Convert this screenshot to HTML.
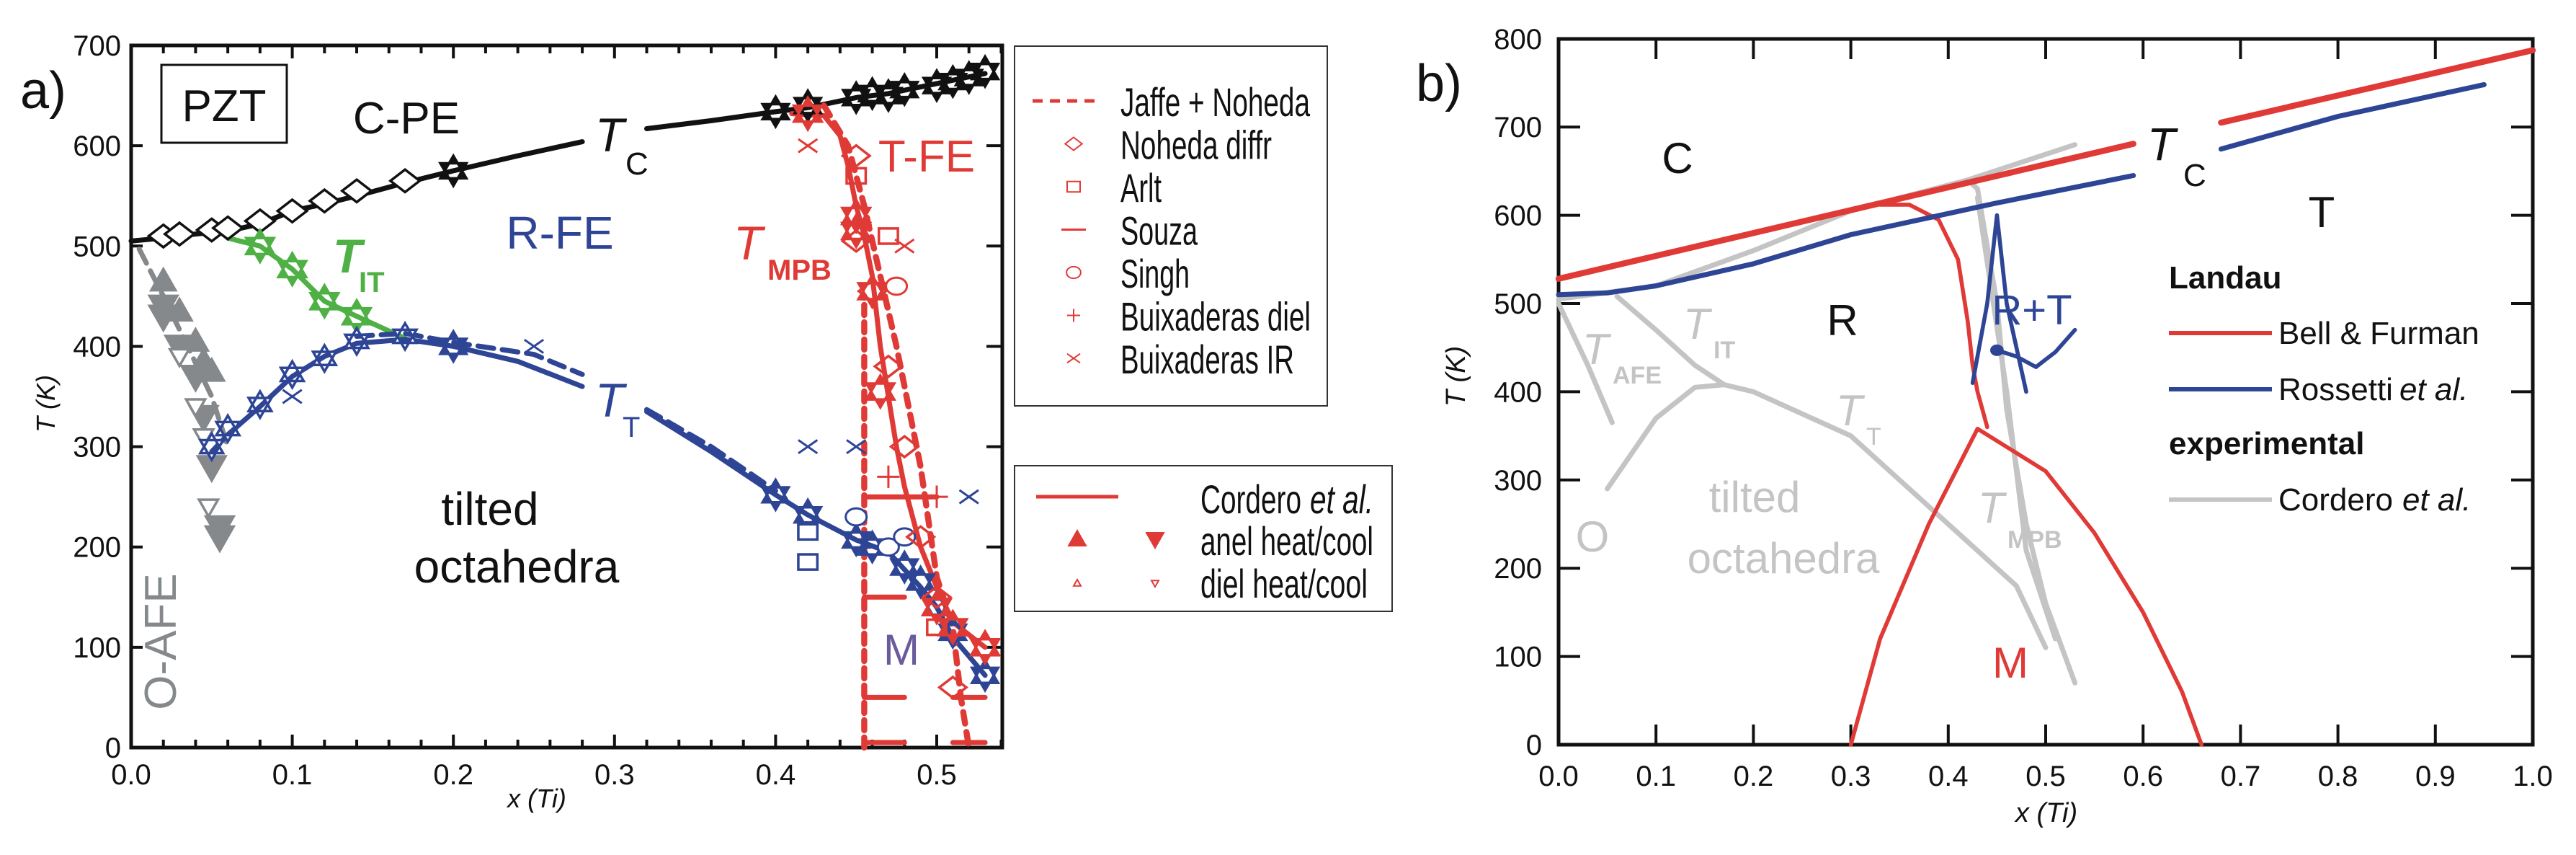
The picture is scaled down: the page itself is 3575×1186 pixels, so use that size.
<!DOCTYPE html>
<html><head><meta charset="utf-8"><title>PZT phase diagram</title>
<style>
html,body{margin:0;padding:0;background:#fff;}
svg{display:block;font-family:"Liberation Sans",Arial,sans-serif;}
</style></head>
<body>
<svg id="fig" width="3575" height="1186" viewBox="0 0 3575 1186" xmlns="http://www.w3.org/2000/svg">
<g id="panelA"></g>
<g id="panelB"></g>
<g id="legA"></g>
</svg>
<script>
// ---------- Panel a data ----------
const tcX = [0,0.02,0.04,0.06,0.08,0.1,0.12,0.14,0.17,0.2,0.24,0.28];
const tcT = [505,508,512,515,522,535,542,550,563,575,590,604];
const tcX2 = [0.32,0.36,0.4,0.42,0.45,0.47,0.5,0.53];
const tcT2 = [617,625,634,638,648,652,662,672];
const tcOpenX = [0.02,0.03,0.05,0.06,0.08,0.1,0.12,0.14,0.17];
const tcOpenT = [510,512,516,518,525,535,545,555,565];
const tcStarX = [0.2,0.4,0.42,0.45,0.46,0.47,0.48,0.5,0.51,0.52,0.53];
const tcStarT = [575,634,640,648,652,650,656,660,664,668,674];
const itX = [0.06,0.08,0.1,0.12,0.14,0.17];
const itT = [508,500,477,445,430,408];
const itStarX = [0.08,0.1,0.12,0.14];
const itStarT = [500,477,445,430];
const ttX = [0.05,0.06,0.08,0.1,0.12,0.14,0.17,0.2,0.24,0.28];
const ttT = [295,312,340,370,390,403,407,400,385,360];
const ttX2 = [0.32,0.36,0.4,0.42,0.45,0.47,0.49,0.5,0.51,0.53];
const ttT2 = [335,295,252,232,207,195,160,140,110,72];
const ttDashX = [0.14,0.17,0.2,0.25,0.28];
const ttDashT = [410,413,404,392,372];
const ttDashX2 = [0.32,0.36,0.4];
const ttDashT2 = [337,300,256];
const ttOpenX = [0.05,0.06,0.08,0.1,0.12,0.14,0.17];
const ttOpenT = [300,318,342,372,388,405,410];
const ttStarX = [0.2,0.4,0.42,0.45,0.46,0.48,0.49,0.5,0.51,0.53];
const ttStarT = [400,252,232,207,200,180,165,140,115,72];
const afeX = [0.005,0.02,0.035,0.05,0.06];
const afeT = [497,450,400,350,300];
const afeDownX = [0.02,0.02,0.03,0.04,0.045,0.05,0.055,0.055];
const afeDownT = [440,430,400,370,330,280,220,210];
const afeUpX = [0.02,0.03,0.04,0.045,0.05];
const afeUpT = [465,435,405,385,375];
const afeOpenX = [0.03,0.04,0.045,0.048];
const afeOpenT = [390,340,310,240];
const mpbX = [0.41,0.43,0.44,0.445,0.45,0.455,0.46,0.465,0.47,0.475,0.48,0.49,0.5,0.51,0.53];
const mpbT = [632,630,610,580,540,510,470,400,350,300,260,200,160,125,100];
const jafX = [0.43,0.445,0.455,0.465,0.475,0.48,0.49,0.5,0.51,0.515,0.52];
const jafT = [640,600,540,470,400,360,280,170,120,50,0];
const mpbTriX = [0.42,0.45,0.45,0.46,0.465,0.5,0.51,0.53];
const mpbTriT = [632,530,515,455,355,140,120,100];
const nohX = [0.45,0.45,0.46,0.47,0.48,0.49,0.5,0.51];
const nohT = [590,505,455,380,300,210,150,60];
const arltX = [0.45,0.47,0.5];
const arltT = [570,510,120];
const singhX = [0.475];
const singhT = [460];
const buixIRX = [0.42,0.48];
const buixIRT = [600,500];
const buixDielX = [0.47,0.5];
const buixDielT = [270,250];
const blueXX = [0.1,0.25,0.42,0.45,0.52];
const blueXT = [350,400,300,300,250];
const blueSqX = [0.42,0.42];
const blueSqT = [215,185];
const blueCircX = [0.45,0.47,0.48];
const blueCircT = [230,200,210];
const souzaT = [250,150,50,50,5,5];
const souzaX0 = [0.455,0.455,0.455,0.51,0.455,0.51];
const souzaX1 = [0.5,0.48,0.48,0.53,0.48,0.53];
const yTicksA = [0,100,200,300,400,500,600,700];
const xTicksA = [0,0.1,0.2,0.3,0.4,0.5];
const xTickLabelsA = ["0.0","0.1","0.2","0.3","0.4","0.5"];

// ---------- Panel b data ----------
const bfX = [0,0.59]; const bfT = [528,681];
const bfX2 = [0.68,1.0]; const bfT2 = [705,787];
const bfMX = [0.3,0.33,0.38,0.43,0.5,0.55,0.6,0.64,0.66];
const bfMT = [0,120,250,358,310,240,150,60,0];
const bfRX = [0.33,0.36,0.39,0.41,0.42,0.425,0.43,0.44];
const bfRT = [612,612,595,550,480,430,400,360];
const roX = [0,0.05,0.1,0.2,0.3,0.4,0.45,0.59];
const roT = [510,512,520,545,578,602,614,645];
const roX2 = [0.68,0.8,0.95];
const roT2 = [675,712,748];
const roSpikeX = [0.425,0.44,0.45,0.46,0.48];
const roSpikeT = [410,500,600,500,400];
const roTailX = [0.45,0.47,0.49,0.51,0.53];
const roTailT = [447,440,428,445,470];
const coTcX = [0,0.1,0.2,0.3,0.42,0.53];
const coTcT = [505,520,560,605,640,680];
const coMpbX = [0.42,0.43,0.45,0.46,0.48,0.5,0.53];
const coMpbT = [640,630,500,380,250,160,70];
const coMpb2X = [0.43,0.46,0.48,0.51];
const coMpb2T = [620,400,220,120];
const coItX = [0.06,0.1,0.14,0.17];
const coItT = [508,470,430,408];
const coTtX = [0.05,0.1,0.14,0.17,0.2,0.3,0.4,0.47,0.5];
const coTtT = [290,370,405,408,400,350,250,180,110];
const coAfeX = [0,0.03,0.055];
const coAfeT = [500,430,365];
const yTicksB = [0,100,200,300,400,500,600,700,800];
const xTicksB = [0,0.1,0.2,0.3,0.4,0.5,0.6,0.7,0.8,0.9,1.0];

// ---------- axis functions ----------
const XA = x => 182 + x*2236;
const YA = t => 1037 - t*1.3914;
const XB = x => 2163 + x*1352;
const YB = t => 1033 - t*1.224;
const NS = "http://www.w3.org/2000/svg";
const gA = document.getElementById('panelA');
const gB = document.getElementById('panelB');
const gL = document.getElementById('legA');

function mk(tag, attrs, parent){
  const e = document.createElementNS(NS, tag);
  for (const k in attrs) e.setAttribute(k, attrs[k]);
  parent.appendChild(e);
  return e;
}
function polyline(parent, xs, ts, fx, fy, color, w, dash, name){
  const pts = xs.map((x,i)=>fx(x).toFixed(1)+','+fy(ts[i]).toFixed(1)).join(' ');
  const e = mk('polyline', {points:pts, fill:'none', stroke:color, 'stroke-width':w*1.4, 'stroke-linejoin':'round', 'stroke-linecap':'round'}, parent);
  if (dash) e.setAttribute('stroke-dasharray', dash);
  
  
  return e;
}
function shape(type, cx, cy, s, color, filled){
  let d;
  if (type==='up') d = `M${cx},${cy-s}L${cx+s},${cy+s*0.75}L${cx-s},${cy+s*0.75}Z`;
  else if (type==='down') d = `M${cx},${cy+s}L${cx+s},${cy-s*0.75}L${cx-s},${cy-s*0.75}Z`;
  else if (type==='diamond') d = `M${cx},${cy-s}L${cx+s*1.3},${cy}L${cx},${cy+s}L${cx-s*1.3},${cy}Z`;
  else if (type==='square') d = `M${cx-s},${cy-s*0.8}h${2*s}v${1.6*s}h${-2*s}Z`;
  else if (type==='star') d = `M${cx},${cy-s}L${cx+s*0.87},${cy+s*0.5}L${cx-s*0.87},${cy+s*0.5}Z M${cx},${cy+s}L${cx+s*0.87},${cy-s*0.5}L${cx-s*0.87},${cy-s*0.5}Z`;
  else if (type==='x') d = `M${cx-s},${cy-s*0.7}L${cx+s},${cy+s*0.7}M${cx+s},${cy-s*0.7}L${cx-s},${cy+s*0.7}`;
  else if (type==='plus') d = `M${cx-s},${cy}L${cx+s},${cy}M${cx},${cy-s}L${cx},${cy+s}`;
  let attrs;
  if (type==='circle'){
    return ['ellipse', {cx:cx, cy:cy, rx:s*1.1, ry:s*0.9, fill:filled?color:'#fff', stroke:color, 'stroke-width':3}];
  }
  if (type==='x'||type==='plus') attrs = {d:d, fill:'none', stroke:color, 'stroke-width':3};
  else attrs = {d:d, fill:filled?color:(filled===null?'none':'#fff'), stroke:color, 'stroke-width':3.5, 'stroke-linejoin':'miter'};
  return ['path', attrs];
}
function markers(parent, xs, ts, fx, fy, type, s, color, filled, name){
  const g = mk('g', {}, parent);
  
  
  const sz = type==='star' ? s*1.3 : s*1.2;
  xs.forEach((x,i)=>{
    const [tag, at] = shape(type, fx(x), fy(ts[i]), sz, color, filled);
    const e = mk(tag, at, g);
    
    
  });
}
function text(parent, x, y, str, size, color, opts, name){
  const e = mk('text', {x:x, y:y, 'font-size':size, fill:color}, parent);
  if (opts) for (const k in opts) e.setAttribute(k, opts[k]);
  e.textContent = str;
  
  
  return e;
}

// ---------- Panel a axes ----------
const RED='#e03a36', BLUE='#2e4596', GREEN='#4fb045', GRAY='#85898c', LG='#c4c4c4', PURPLE='#6b5a9c';
const frameA = mk('rect', {x:182, y:63, width:1209, height:974, fill:'none', stroke:'#111', 'stroke-width':5}, gA);


for (let i=0;i<=27;i++){
  const x = i*0.02; if (XA(x)>1390) break;
  const L = (i%5===0)?18:11;
  const t1 = mk('path', {d:`M${XA(x)},1037v${-L}M${XA(x)},63v${L}`, stroke:'#111', 'stroke-width':4}, gA);
  
  
}
yTicksA.forEach(t=>{
  const tk = mk('path', {d:`M182,${YA(t)}h16M1391,${YA(t)}h-22`, stroke:'#111', 'stroke-width':4}, gA);
  
  
  text(gA, 168, YA(t)+14, String(t), 40, '#111', {'text-anchor':'end'}, 'y-tick-label-a');
});
xTicksA.forEach((x,i)=>{
  text(gA, XA(x), 1088, xTickLabelsA[i], 40, '#111', {'text-anchor':'middle'}, 'x-tick-label-a');
});
text(gA, 745, 1120, 'x (Ti)', 36, '#111', {'text-anchor':'middle','font-style':'italic'}, 'x-axis-title-a');
text(gA, 0, 0, 'T (K)', 36, '#111', {'text-anchor':'middle','transform':'translate(76,560) rotate(-90)','font-style':'italic'}, 'y-axis-title-a');
text(gA, 28, 150, 'a)', 72, '#111', {}, 'panel-label-a');
const pztBox = mk('rect', {x:224, y:90, width:174, height:108, fill:'#fff', stroke:'#111', 'stroke-width':3}, gA);


text(gA, 311, 168, 'PZT', 62, '#111', {'text-anchor':'middle'}, 'pzt-label');

// lines
polyline(gA, afeX, afeT, XA, YA, GRAY, 5, '22 12', 'afe-dashed-line');
polyline(gA, tcX, tcT, XA, YA, '#111', 5, null, 'tc-line-low');
polyline(gA, tcX2, tcT2, XA, YA, '#111', 5, null, 'tc-line-high');
polyline(gA, itX, itT, XA, YA, GREEN, 5, null, 'tit-line');
polyline(gA, ttX, ttT, XA, YA, BLUE, 5, null, 'tt-line-low');
polyline(gA, ttX2, ttT2, XA, YA, BLUE, 5, null, 'tt-line-high');
polyline(gA, ttDashX, ttDashT, XA, YA, BLUE, 5, '22 12', 'tt-dashed-low');
polyline(gA, ttDashX2, ttDashT2, XA, YA, BLUE, 5, '22 12', 'tt-dashed-high');
polyline(gA, jafX, jafT, XA, YA, RED, 6, '16 12', 'jaffe-noheda-line');
polyline(gA, [0.455,0.455], [0,450], XA, YA, RED, 6, '14 10', 'mpb-vertical-dashed');
polyline(gA, mpbX, mpbT, XA, YA, RED, 5, null, 'tmpb-line');
souzaT.forEach((t,i)=>{
  polyline(gA, [souzaX0[i], souzaX1[i]], [t,t], XA, YA, RED, 5, null, 'souza-segment');
});
// markers
markers(gA, afeDownX, afeDownT, XA, YA, 'down', 16, GRAY, true, 'afe-cool-markers');
markers(gA, afeUpX, afeUpT, XA, YA, 'up', 14, GRAY, true, 'afe-heat-markers');
markers(gA, afeOpenX, afeOpenT, XA, YA, 'down', 11, GRAY, false, 'afe-diel-markers');
markers(gA, tcOpenX, tcOpenT, XA, YA, 'diamond', 13, '#111', false, 'tc-open-markers');
markers(gA, tcStarX, tcStarT, XA, YA, 'star', 16, '#111', true, 'tc-star-markers');
markers(gA, itStarX, itStarT, XA, YA, 'star', 17, GREEN, true, 'tit-star-markers');
markers(gA, ttOpenX, ttOpenT, XA, YA, 'star', 14, BLUE, false, 'tt-open-markers');
markers(gA, ttStarX, ttStarT, XA, YA, 'star', 16, BLUE, true, 'tt-star-markers');
markers(gA, blueXX, blueXT, XA, YA, 'x', 11, BLUE, false, 'blue-x-markers');
markers(gA, blueSqX, blueSqT, XA, YA, 'square', 11, BLUE, false, 'blue-square-markers');
markers(gA, blueCircX, blueCircT, XA, YA, 'circle', 11, BLUE, null, 'blue-circle-markers');
markers(gA, mpbTriX, mpbTriT, XA, YA, 'star', 17, RED, true, 'tmpb-anel-markers');
markers(gA, nohX, nohT, XA, YA, 'diamond', 12, RED, null, 'noheda-diffr-markers');
markers(gA, arltX, arltT, XA, YA, 'square', 11, RED, null, 'arlt-markers');
markers(gA, singhX, singhT, XA, YA, 'circle', 11, RED, null, 'singh-markers');
markers(gA, buixIRX, buixIRT, XA, YA, 'x', 11, RED, false, 'buixaderas-ir-markers');
markers(gA, buixDielX, buixDielT, XA, YA, 'plus', 13, RED, false, 'buixaderas-diel-markers');
// region labels
text(gA, 564, 185, 'C-PE', 62, '#111', {'text-anchor':'middle'}, 'c-pe-label');
text(gA, 826, 210, 'T', 66, '#111', {'font-style':'italic'}, 'tc-label');
text(gA, 868, 242, 'C', 44, '#111', {}, 'tc-label-sub');
text(gA, 777, 345, 'R-FE', 64, BLUE, {'text-anchor':'middle'}, 'r-fe-label');
text(gA, 462, 378, 'T', 66, GREEN, {'font-style':'italic','font-weight':'bold'}, 'tit-label');
text(gA, 498, 405, 'IT', 40, GREEN, {'font-weight':'bold'}, 'tit-label-sub');
text(gA, 1018, 360, 'T', 66, RED, {'font-style':'italic'}, 'tmpb-label');
text(gA, 1065, 388, 'MPB', 40, RED, {'font-weight':'bold'}, 'tmpb-label-sub');
text(gA, 1286, 238, 'T-FE', 62, RED, {'text-anchor':'middle'}, 't-fe-label');
text(gA, 826, 578, 'T', 66, BLUE, {'font-style':'italic'}, 'tt-label');
text(gA, 864, 606, 'T', 40, BLUE, {}, 'tt-label-sub');
text(gA, 680, 728, 'tilted', 64, '#111', {'text-anchor':'middle'}, 'tilted-label');
text(gA, 717, 808, 'octahedra', 64, '#111', {'text-anchor':'middle'}, 'octahedra-label');
text(gA, 0, 0, 'O-AFE', 62, GRAY, {'text-anchor':'middle','transform':'translate(244,890) rotate(-90)'}, 'o-afe-label');
text(gA, 1251, 922, 'M', 60, PURPLE, {'text-anchor':'middle'}, 'm-label-a');

// ---------- Legend a ----------
const lb1 = mk('rect', {x:1408, y:64, width:434, height:499, fill:'#fff', stroke:'#333', 'stroke-width':2}, gL);


const lb2 = mk('rect', {x:1408, y:646, width:524, height:202, fill:'#fff', stroke:'#333', 'stroke-width':2}, gL);


const legNames = ['Jaffe + Noheda','Noheda diffr','Arlt','Souza','Singh','Buixaderas diel','Buixaderas IR'];
const legWidths = [263,210,57,107,96,264,241];
const legTypes = ['dash','diamond','square','line','circle','plus','x'];
legNames.forEach((n,i)=>{
  const y = 140 + i*59.5;
  const tp = legTypes[i];
  if (tp==='dash'){
    const e = mk('path', {d:`M1433,${y}h90`, stroke:RED, 'stroke-width':5, 'stroke-dasharray':'14 10'}, gL);
    
    
  } else if (tp==='line'){
    const e = mk('path', {d:`M1473,${y}h34`, stroke:RED, 'stroke-width':3}, gL);
    
    
  } else {
    const [tag, at] = shape(tp, 1490, y, 9, RED, null);
    at['stroke-width'] = 2;
    const e = mk(tag, at, gL);
    
    
  }
  text(gL, 1555, y+21, n, 56, '#111', {'textLength':legWidths[i],'lengthAdjust':'spacingAndGlyphs'}, 'legend-entry');
});
const cl = mk('path', {d:`M1438,689h114`, stroke:RED, 'stroke-width':5}, gL);


[['up',1495,748,12,true],['down',1603,748,12,true],['up',1495,809,5,null],['down',1603,809,5,null]].forEach(m=>{
  const [tag, at] = shape(m[0], m[1], m[2], m[3], RED, m[4]);
  at['stroke-width'] = 2;
  const e = mk(tag, at, gL);
  
  
});
text(gL, 1666, 712, 'Cordero', 56, '#111', {'textLength':140,'lengthAdjust':'spacingAndGlyphs'}, 'legend-entry');
text(gL, 1818, 712, 'et al.', 56, '#111', {'font-style':'italic','textLength':88,'lengthAdjust':'spacingAndGlyphs'}, 'legend-entry-etal');
text(gL, 1666, 770, 'anel heat/cool', 56, '#111', {'textLength':240,'lengthAdjust':'spacingAndGlyphs'}, 'legend-entry');
text(gL, 1666, 829, 'diel heat/cool', 56, '#111', {'textLength':232,'lengthAdjust':'spacingAndGlyphs'}, 'legend-entry');

// ---------- Panel b ----------
const frameB = mk('rect', {x:2163, y:54, width:1352, height:979, fill:'none', stroke:'#111', 'stroke-width':5}, gB);


xTicksB.forEach(x=>{
  const tk = mk('path', {d:`M${XB(x)},1033v-28M${XB(x)},54v28`, stroke:'#111', 'stroke-width':4}, gB);
  
  
  text(gB, XB(x), 1090, x.toFixed(1), 40, '#111', {'text-anchor':'middle'}, 'x-tick-label-b');
});
yTicksB.forEach(t=>{
  const tk = mk('path', {d:`M2163,${YB(t)}h30M3515,${YB(t)}h-30`, stroke:'#111', 'stroke-width':4}, gB);
  
  
  text(gB, 2140, YB(t)+14, String(t), 40, '#111', {'text-anchor':'end'}, 'y-tick-label-b');
});
text(gB, 2840, 1140, 'x (Ti)', 38, '#111', {'text-anchor':'middle','font-style':'italic'}, 'x-axis-title-b');
text(gB, 0, 0, 'T (K)', 38, '#111', {'text-anchor':'middle','transform':'translate(2033,522) rotate(-90)','font-style':'italic'}, 'y-axis-title-b');
text(gB, 1965, 140, 'b)', 72, '#111', {}, 'panel-label-b');

// gray experimental
polyline(gB, coTcX, coTcT, XB, YB, LG, 5, null, 'cordero-tc');
polyline(gB, coMpbX, coMpbT, XB, YB, LG, 5, null, 'cordero-tmpb');
polyline(gB, coMpb2X, coMpb2T, XB, YB, LG, 5, null, 'cordero-tmpb-2');
polyline(gB, coItX, coItT, XB, YB, LG, 5, null, 'cordero-tit');
polyline(gB, coTtX, coTtT, XB, YB, LG, 5, null, 'cordero-tt');
polyline(gB, coAfeX, coAfeT, XB, YB, LG, 5, null, 'cordero-tafe');
// Landau
polyline(gB, bfX, bfT, XB, YB, RED, 6, null, 'bell-furman-tc-low');
polyline(gB, bfX2, bfT2, XB, YB, RED, 6, null, 'bell-furman-tc-high');
polyline(gB, bfMX, bfMT, XB, YB, RED, 4, null, 'bell-furman-m-boundary');
polyline(gB, bfRX, bfRT, XB, YB, RED, 4, null, 'bell-furman-rt-boundary');
polyline(gB, roX, roT, XB, YB, BLUE, 5, null, 'rossetti-tc-low');
polyline(gB, roX2, roT2, XB, YB, BLUE, 5, null, 'rossetti-tc-high');
polyline(gB, roSpikeX, roSpikeT, XB, YB, BLUE, 4, null, 'rossetti-rt-spike');
polyline(gB, roTailX, roTailT, XB, YB, BLUE, 4, null, 'rossetti-rt-tail');
markers(gB, [0.45], [447], XB, YB, 'circle', 6, BLUE, true, 'rossetti-triple-point');

// panel b labels
text(gB, 2328, 240, 'C', 60, '#111', {'text-anchor':'middle'}, 'c-label-b');
text(gB, 2980, 222, 'T', 64, '#111', {'font-style':'italic'}, 'tc-label-b');
text(gB, 3030, 258, 'C', 44, '#111', {}, 'tc-label-b-sub');
text(gB, 3222, 315, 'T', 60, '#111', {'text-anchor':'middle'}, 't-label-b');
text(gB, 2557, 465, 'R', 60, '#111', {'text-anchor':'middle'}, 'r-label-b');
text(gB, 2820, 450, 'R+T', 58, BLUE, {'text-anchor':'middle'}, 'r-plus-t-label');
text(gB, 2790, 940, 'M', 60, RED, {'text-anchor':'middle'}, 'm-label-b');
text(gB, 2196, 505, 'T', 60, LG, {'font-style':'italic'}, 'tafe-label');
text(gB, 2238, 532, 'AFE', 34, LG, {'font-weight':'bold'}, 'tafe-label-sub');
text(gB, 2336, 470, 'T', 60, LG, {'font-style':'italic'}, 'tit-label-b');
text(gB, 2378, 497, 'IT', 34, LG, {'font-weight':'bold'}, 'tit-label-b-sub');
text(gB, 2548, 590, 'T', 60, LG, {'font-style':'italic'}, 'tt-label-b');
text(gB, 2590, 617, 'T', 34, LG, {}, 'tt-label-b-sub');
text(gB, 2745, 725, 'T', 60, LG, {'font-style':'italic'}, 'tmpb-label-b');
text(gB, 2786, 760, 'MPB', 34, LG, {'font-weight':'bold'}, 'tmpb-label-b-sub');
text(gB, 2210, 765, 'O', 60, LG, {'text-anchor':'middle'}, 'o-label-b');
text(gB, 2435, 710, 'tilted', 60, LG, {'text-anchor':'middle'}, 'tilted-label-b');
text(gB, 2475, 795, 'octahedra', 60, LG, {'text-anchor':'middle'}, 'octahedra-label-b');
// legend b
text(gB, 3010, 400, 'Landau', 44, '#111', {'font-weight':'bold'}, 'legend-b-landau-heading');
const l1 = mk('path', {d:'M3010,462h143', stroke:RED, 'stroke-width':6}, gB);


text(gB, 3162, 477, 'Bell & Furman', 44, '#111', {}, 'legend-b-entry');
const l2 = mk('path', {d:'M3010,540h143', stroke:BLUE, 'stroke-width':6}, gB);


text(gB, 3162, 555, 'Rossetti ', 44, '#111', {}, 'legend-b-entry');
text(gB, 3330, 555, 'et al.', 44, '#111', {'font-style':'italic'}, 'legend-b-entry-etal');
text(gB, 3010, 630, 'experimental', 44, '#111', {'font-weight':'bold'}, 'legend-b-experimental-heading');
const l3 = mk('path', {d:'M3010,693h143', stroke:LG, 'stroke-width':6}, gB);


text(gB, 3162, 708, 'Cordero ', 44, '#111', {}, 'legend-b-entry');
text(gB, 3334, 708, 'et al.', 44, '#111', {'font-style':'italic'}, 'legend-b-entry-etal');
</script>
</body></html>
